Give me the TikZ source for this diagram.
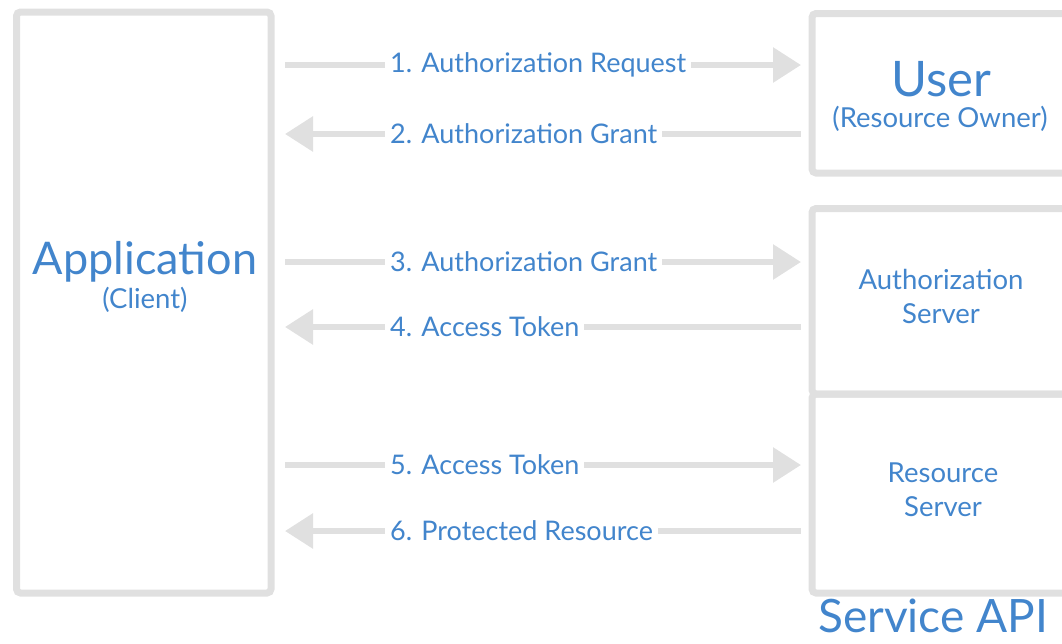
\documentclass[tikz,border=0pt]{standalone}
\usepackage{fontspec}
\setmainfont{Lato}
\usetikzlibrary{arrows.meta,calc}
\definecolor{boxgray}{RGB}{224,224,224}
\definecolor{txtblue}{RGB}{66,133,204}
\begin{document}
\begin{tikzpicture}[x=1pt,y=-1pt,
  box/.style={draw=boxgray,line width=7pt,rounded corners=4pt,inner sep=0pt,outer sep=0pt},
  arr/.style={draw=boxgray,line width=6pt,-{Triangle[length=28pt,width=34pt]}},
  toright/.style={arr,shorten <=14pt,shorten >=11pt},
  toleft/.style={arr,shorten <=11pt,shorten >=14pt},
  lbl/.style={fill=white,text=txtblue,anchor=west,inner xsep=5pt,inner ysep=2pt,font=\fontsize{27}{31}\selectfont},
  big/.style={text=txtblue,font=\fontsize{45}{50}\selectfont,inner sep=0pt},
  mid/.style={text=txtblue,font=\fontsize{27.5}{34}\selectfont,inner sep=0pt,align=center}]
\useasboundingbox (0,0) rectangle (1062,643);
\clip (0,0) rectangle (1062,643);
\node[box,minimum width=254.5pt,minimum height=581pt] (app) at (143.75,302.5) {};
\node[box,minimum width=258pt,minimum height=159.5pt] (user) at (941,93.25) {};
\node[box,minimum width=258pt,minimum height=185.5pt] (auth) at (941,301.25) {};
\node[box,minimum width=258pt,minimum height=199pt] (res) at (941,493.5) {};
% texts
\node[big] (apptxt) at (145,262) {Application};
\node[mid] (clienttxt) at (145,300) {(Client)};
\node[big,font=\fontsize{49}{54}\selectfont] (usertxt) at (941,79) {User};
\node[mid] (ownertxt) at (940,119) {(Resource Owner)};
\node[mid] (authtxt) at (941,296) {Authorization\\Server};
\node[mid] (restxt) at (943,490) {Resource\\Server};
\node[big,font=\fontsize{46}{52}\selectfont,anchor=base west] (apitxt) at (818,632) {Service API};
% arrows
\draw[toright] (app.east |- 0,65) -- (user.west |- 0,65);
\draw[toleft] (user.west |- 0,134) -- (app.east |- 0,134);
\draw[toright] (app.east |- 0,262) -- (auth.west |- 0,262);
\draw[toleft] (auth.west |- 0,327) -- (app.east |- 0,327);
\draw[toright] (app.east |- 0,465) -- (res.west |- 0,465);
\draw[toleft] (res.west |- 0,531) -- (app.east |- 0,531);
\node[lbl] (l1) at (385,65) {1. Authorization Request};
\node[lbl] (l2) at (385,134) {2. Authorization Grant};
\node[lbl] (l3) at (385,262) {3. Authorization Grant};
\node[lbl] (l4) at (385,327) {4. Access Token};
\node[lbl] (l5) at (385,465) {5. Access Token};
\node[lbl] (l6) at (385,531) {6. Protected Resource};
\end{tikzpicture}
\end{document}
